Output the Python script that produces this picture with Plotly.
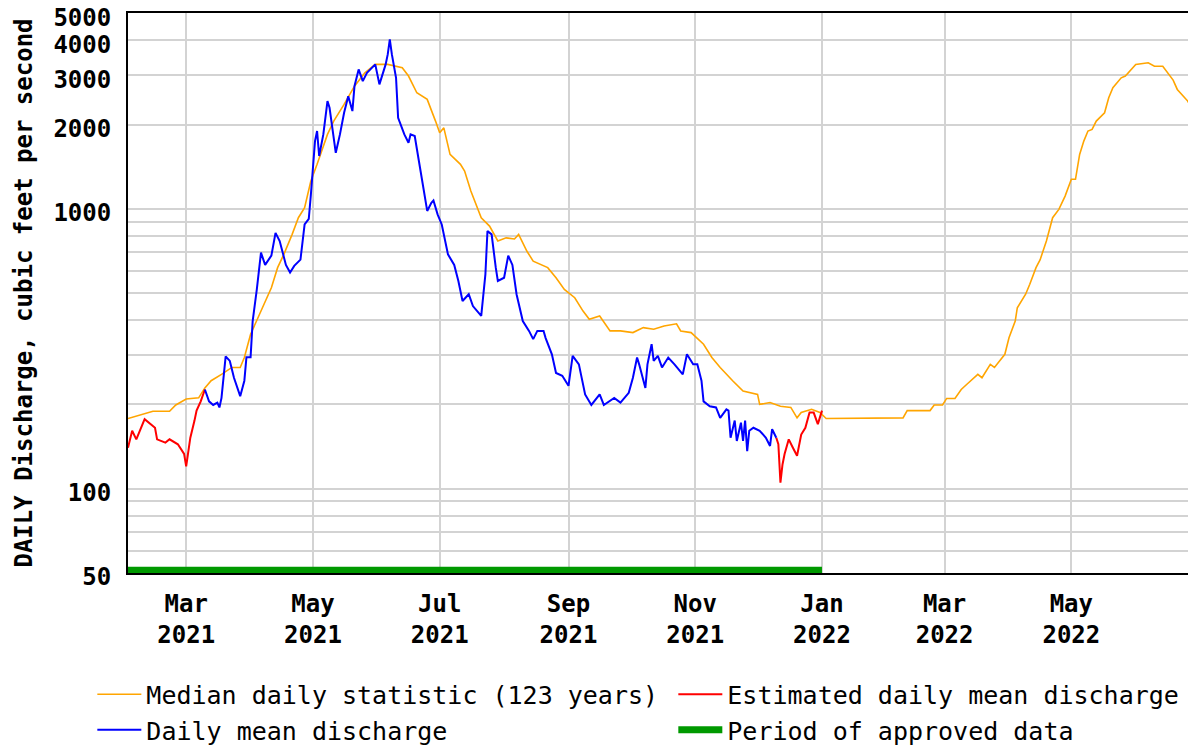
import plotly.graph_objects as go
import math

# ---------------- data ----------------
median_dates = [
    "2021-02-01", "2021-02-13", "2021-02-21", "2021-02-24", "2021-03-01", "2021-03-07", "2021-03-10",
    "2021-03-13", "2021-03-18", "2021-03-23", "2021-03-27", "2021-03-29", "2021-04-01", "2021-04-05",
    "2021-04-08", "2021-04-11", "2021-04-14", "2021-04-17", "2021-04-21", "2021-04-24", "2021-04-27",
    "2021-04-30", "2021-05-03", "2021-05-08", "2021-05-11", "2021-05-16", "2021-05-21", "2021-05-26",
    "2021-05-31", "2021-06-06", "2021-06-13", "2021-06-16", "2021-06-20", "2021-06-25", "2021-06-29",
    "2021-07-01", "2021-07-03", "2021-07-06", "2021-07-11", "2021-07-13", "2021-07-16", "2021-07-21",
    "2021-07-25", "2021-07-29", "2021-08-02", "2021-08-06", "2021-08-08", "2021-08-12", "2021-08-15",
    "2021-08-22", "2021-08-26", "2021-08-30", "2021-09-04", "2021-09-08", "2021-09-11", "2021-09-16",
    "2021-09-21", "2021-09-26", "2021-10-02", "2021-10-07", "2021-10-12", "2021-10-17", "2021-10-23",
    "2021-10-25", "2021-10-30", "2021-11-05", "2021-11-09", "2021-11-13", "2021-11-19", "2021-11-24",
    "2021-12-01", "2021-12-02", "2021-12-07", "2021-12-12", "2021-12-17", "2021-12-20", "2021-12-22",
    "2021-12-27", "2021-12-31", "2022-01-03", "2022-02-09", "2022-02-11", "2022-02-22", "2022-02-24",
    "2022-02-28", "2022-03-02", "2022-03-06", "2022-03-09", "2022-03-12", "2022-03-17", "2022-03-19",
    "2022-03-23", "2022-03-25", "2022-03-30", "2022-04-01", "2022-04-04", "2022-04-05", "2022-04-09",
    "2022-04-11", "2022-04-14", "2022-04-16", "2022-04-19", "2022-04-22", "2022-04-25", "2022-04-28",
    "2022-05-01", "2022-05-03", "2022-05-05", "2022-05-07", "2022-05-09", "2022-05-11", "2022-05-13",
    "2022-05-17", "2022-05-19", "2022-05-21", "2022-05-25", "2022-05-27", "2022-05-30", "2022-06-01",
    "2022-06-07", "2022-06-10", "2022-06-14", "2022-06-17", "2022-06-19", "2022-06-21", "2022-06-24",
    "2022-06-26", "2022-06-29", "2022-06-30",
]
median_values = [
    178, 189, 189, 199, 209, 211, 229,
    243, 256, 271, 271, 294, 356, 414,
    468, 522, 616, 687, 810, 929, 1008,
    1256, 1441, 1844, 2057, 2360, 2742, 3059,
    3279, 3279, 3189, 2980, 2597, 2459, 2057,
    1868, 1946, 1564, 1441, 1364, 1157, 929,
    867, 767, 787, 780, 810, 705, 650,
    616, 567, 515, 481, 431, 403, 414,
    366, 366, 361, 376, 371, 381, 388,
    366, 361, 328, 294, 271, 243, 223,
    217, 200, 203, 197, 195, 179, 187,
    192, 187, 178, 179, 190, 190, 199,
    199, 210, 210, 226, 237, 256, 249,
    278, 271, 302, 346, 397, 443, 495,
    537, 616, 658, 767, 929, 995, 1110,
    1274, 1274, 1564, 1745, 1895, 1921, 2057,
    2202, 2492, 2706, 2937, 2980, 3146, 3279,
    3322, 3230, 3230, 3021, 2882, 2669, 2525,
    2426, 2202, 1976,
]

daily_dates = [
    "2021-03-10", "2021-03-12", "2021-03-14", "2021-03-16", "2021-03-17", "2021-03-18", "2021-03-20",
    "2021-03-22", "2021-03-24", "2021-03-27", "2021-03-29", "2021-03-30", "2021-04-01", "2021-04-02",
    "2021-04-04", "2021-04-05", "2021-04-06", "2021-04-08", "2021-04-11", "2021-04-13", "2021-04-15",
    "2021-04-18", "2021-04-20", "2021-04-22", "2021-04-25", "2021-04-27", "2021-04-29", "2021-04-30",
    "2021-05-02", "2021-05-03", "2021-05-04", "2021-05-06", "2021-05-08", "2021-05-09", "2021-05-12",
    "2021-05-14", "2021-05-16", "2021-05-18", "2021-05-20", "2021-05-21", "2021-05-23", "2021-05-25",
    "2021-05-27", "2021-05-31", "2021-06-02", "2021-06-05", "2021-06-06", "2021-06-07", "2021-06-08",
    "2021-06-10", "2021-06-11", "2021-06-14", "2021-06-16", "2021-06-17", "2021-06-19", "2021-06-21",
    "2021-06-23", "2021-06-25", "2021-06-27", "2021-06-28", "2021-06-30", "2021-07-02", "2021-07-05",
    "2021-07-08", "2021-07-10", "2021-07-12", "2021-07-15", "2021-07-17", "2021-07-21", "2021-07-23",
    "2021-07-24", "2021-07-26", "2021-07-28", "2021-07-29", "2021-08-01", "2021-08-03", "2021-08-05",
    "2021-08-07", "2021-08-10", "2021-08-13", "2021-08-15", "2021-08-17", "2021-08-20", "2021-08-21",
    "2021-08-24", "2021-08-26", "2021-08-29", "2021-09-01", "2021-09-03", "2021-09-06", "2021-09-07",
    "2021-09-09", "2021-09-12", "2021-09-16", "2021-09-18", "2021-09-23", "2021-09-26", "2021-09-30",
    "2021-10-02", "2021-10-04", "2021-10-05", "2021-10-08", "2021-10-09", "2021-10-11", "2021-10-12",
    "2021-10-14", "2021-10-16", "2021-10-19", "2021-10-22", "2021-10-26", "2021-10-28", "2021-10-31",
    "2021-11-02", "2021-11-04", "2021-11-05", "2021-11-08", "2021-11-11", "2021-11-13", "2021-11-16",
    "2021-11-17", "2021-11-18", "2021-11-20", "2021-11-21", "2021-11-23", "2021-11-24", "2021-11-25",
    "2021-11-26", "2021-11-27", "2021-11-29", "2021-12-02", "2021-12-05", "2021-12-07", "2021-12-08",
    "2021-12-10",
]
daily_values = [
    226, 205, 199, 203, 195, 211, 297,
    286, 249, 214, 243, 295, 295, 397,
    515, 606, 697, 630, 680, 820, 767,
    630, 592, 625, 658, 880, 920, 1120,
    1745, 1895, 1543, 1844, 2426, 2295, 1585,
    1844, 2202, 2525, 2234, 2742, 3146, 2859,
    3059, 3279, 2782, 3279, 3560, 4026, 3560,
    2937, 2114, 1844, 1722, 1844, 1820, 1481,
    1222, 982, 1051, 1070, 955, 879, 687,
    630, 552, 468, 495, 449, 414, 583,
    832, 810, 616, 552, 567, 680, 630,
    495, 397, 366, 342, 366, 366, 345,
    302, 259, 253, 233, 298, 278, 256,
    217, 199, 217, 199, 211, 203, 220,
    249, 294, 278, 229, 278, 328, 286,
    298, 271, 294, 278, 256, 302, 278,
    278, 243, 205, 197, 195, 179, 192,
    190, 152, 175, 148, 172, 148, 175,
    136, 161, 165, 161, 152, 142, 163,
    152,
]

estimated_dates = [
    "2021-02-01", "2021-02-03", "2021-02-05", "2021-02-09", "2021-02-14", "2021-02-15", "2021-02-19",
    "2021-02-21", "2021-02-25", "2021-02-28", "2021-03-01", "2021-03-03", "2021-03-05", "2021-03-06",
    "2021-03-08", "2021-03-10",
    None,
    "2021-12-10", "2021-12-11", "2021-12-12", "2021-12-13", "2021-12-14", "2021-12-16", "2021-12-18",
    "2021-12-20", "2021-12-22", "2021-12-24", "2021-12-26", "2021-12-28", "2021-12-30", "2021-12-31",
    "2022-01-01",
]
estimated_values = [
    140, 161, 150, 177, 165, 150, 146,
    150, 144, 133, 120, 152, 175, 190,
    205, 226,
    None,
    152, 144, 105, 122, 133, 150, 140,
    131, 156, 165, 187, 187, 170, 180,
    190,
]

approved_dates = ["2021-02-01", "2022-01-01"]
approved_values = [50, 50]

x_tick_dates = ["2021-03-01", "2021-05-01", "2021-07-01", "2021-09-01", "2021-11-01",
                "2022-01-01", "2022-03-01", "2022-05-01"]
x_tick_labels = ["Mar<br>2021", "May<br>2021", "Jul<br>2021", "Sep<br>2021", "Nov<br>2021",
                 "Jan<br>2022", "Mar<br>2022", "May<br>2022"]
y_grid_values = [50, 60, 70, 80, 90, 100, 200, 300, 400, 500, 600, 700, 800, 900,
                 1000, 2000, 3000, 4000, 5000]
y_labeled = {50: "50", 100: "100", 1000: "1000", 2000: "2000", 3000: "3000", 4000: "4000", 5000: "5000"}

# ---------------- figure ----------------
FONT = "DejaVu Sans Mono"
tick_font = dict(family=FONT, size=24, color="black", weight="bold")

fig = go.Figure()
fig.add_trace(go.Scatter(x=median_dates, y=median_values, mode="lines",
                         name="Median daily statistic (123 years)",
                         line=dict(color="#FFA500", width=1.6), legend="legend"))
fig.add_trace(go.Scatter(x=estimated_dates, y=estimated_values, mode="lines",
                         name="Estimated daily mean discharge",
                         line=dict(color="#FF0000", width=2), legend="legend2"))
fig.add_trace(go.Scatter(x=daily_dates, y=daily_values, mode="lines",
                         name="Daily mean discharge",
                         line=dict(color="#0000FF", width=2), legend="legend"))
fig.add_trace(go.Scatter(x=approved_dates, y=approved_values, mode="lines",
                         showlegend=False, line=dict(color="#009900", width=12)))
fig.add_trace(go.Scatter(x=[None], y=[None], mode="lines",
                         name="Period of approved data",
                         line=dict(color="#009900", width=7), legend="legend2"))

legend_common = dict(orientation="v", xanchor="left", y=-0.176, yanchor="top",
                     itemwidth=44, font=dict(family=FONT, size=25, color="black"),
                     bgcolor="rgba(0,0,0,0)", borderwidth=0)

fig.update_layout(
    width=1189, height=739,
    margin=dict(l=120, r=1, t=5, b=174, autoexpand=False),
    paper_bgcolor="white", plot_bgcolor="white",
    font=dict(family=FONT, size=24, color="black"),
    showlegend=True,
    legend=dict(x=-0.0334, **legend_common),
    legend2=dict(x=0.5106, **legend_common),
)
fig.update_xaxes(
    range=["2021-02-01", "2022-06-30"],
    tickmode="array", tickvals=x_tick_dates, ticktext=x_tick_labels,
    showgrid=True, gridcolor="#d3d3d3", gridwidth=2,
    showline=True, linecolor="black", linewidth=2, mirror=True,
    ticks="", ticklabelstandoff=8, automargin=False,
    tickfont=tick_font,
    zeroline=False,
)
fig.update_yaxes(
    type="log", range=[math.log10(50) - 0.0005, math.log10(5000) + 0.0005],
    tickmode="array", tickvals=y_grid_values,
    ticktext=[y_labeled.get(v, "") for v in y_grid_values],
    showgrid=True, gridcolor="#d3d3d3", gridwidth=2,
    showline=True, linecolor="black", linewidth=2, mirror=True,
    ticks="", ticklabelstandoff=10, ticklabelshift=4,
    automargin=False, ticklabeloverflow="allow",
    tickfont=tick_font,
    title=dict(text="DAILY Discharge, cubic feet per second",
               font=dict(family=FONT, size=24, color="black", weight="bold"), standoff=14),
    zeroline=False,
)

fig.write_html("out.html")
